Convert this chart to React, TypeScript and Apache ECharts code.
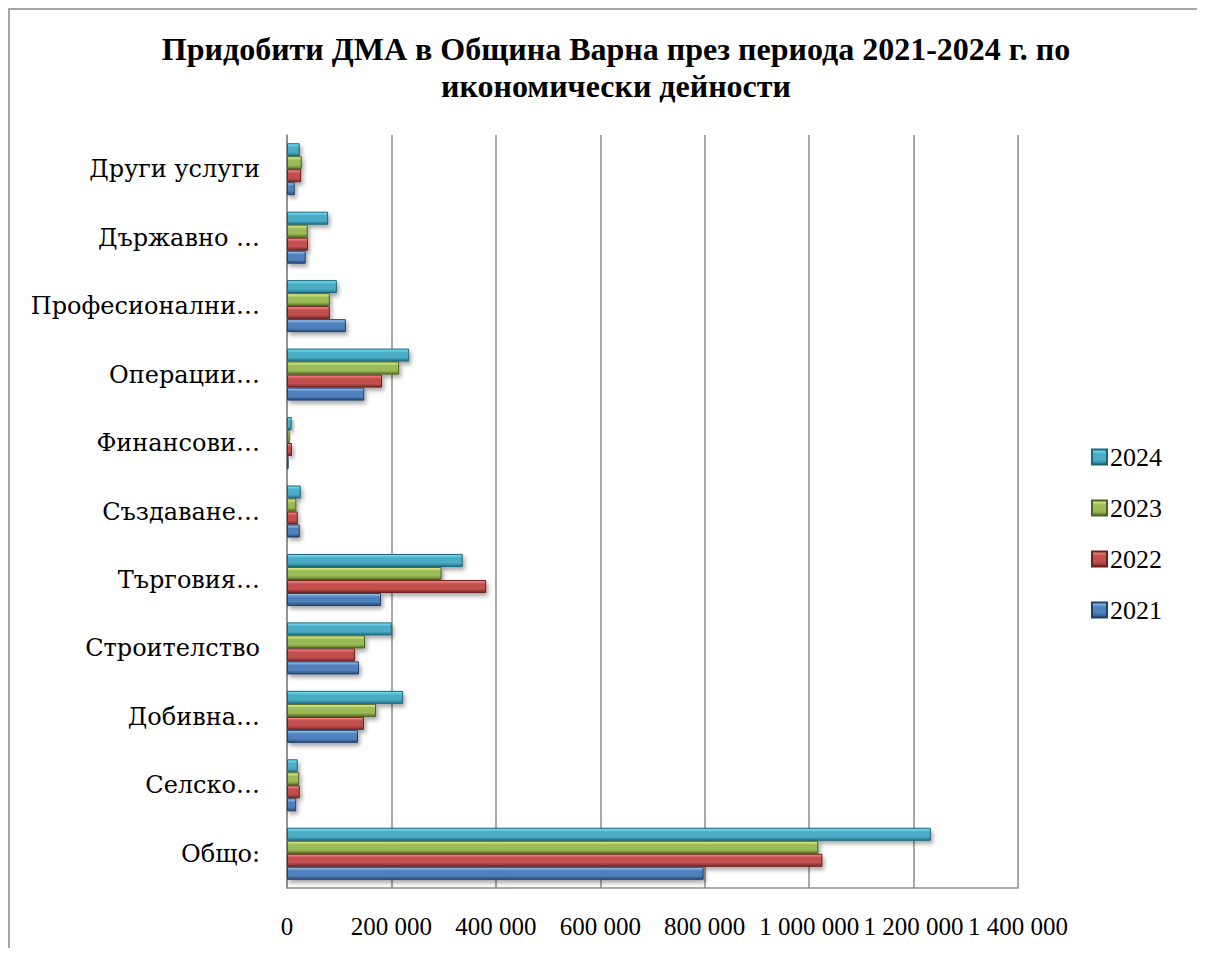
import React, { useEffect, useRef } from "react";
import * as echarts from "echarts";

const categories = [
  "Общо:",
  "Селско…",
  "Добивна…",
  "Строителство",
  "Търговия…",
  "Създаване…",
  "Финансови…",
  "Операции…",
  "Професионални…",
  "Държавно …",
  "Други услуги",
];
const v2021 = [798000, 17600, 135900, 137800, 180100, 24400, 3200, 148000, 112800, 35900, 14700];
const v2022 = [1025400, 24400, 147400, 130100, 381400, 20500, 9600, 182000, 82000, 40400, 27000];
const v2023 = [1017600, 23400, 170500, 149400, 296000, 17900, 5100, 214700, 82000, 39700, 28200];
const v2024 = [1233000, 20500, 222400, 200600, 336500, 26300, 9000, 234000, 95500, 78800, 24400];
// top-to-bottom inside each group
const years = ["2024", "2023", "2022", "2021"];
const seriesValues = [v2024, v2023, v2022, v2021];
const legendOrder = ["2024", "2023", "2022", "2021"];

const palettes = [
  { light: "#7ae6fb", mid: "#4bacc6", dark: "#23788f", border: "#1d6578" },
  { light: "#eaf790", mid: "#9bbb59", dark: "#5c7a28", border: "#4a6420" },
  { light: "#ff8f8b", mid: "#c0504d", dark: "#7c2b29", border: "#6a2220" },
  { light: "#a2cdf9", mid: "#4f81bd", dark: "#2a4d7c", border: "#22406a" },
];

const fmt = (v: number) => String(v).replace(/\B(?=(\d{3})+(?!\d))/g, " ");

export default function App() {
  const ref = useRef<HTMLDivElement>(null);
  useEffect(() => {
    if (!ref.current) return;
    const chart = echarts.init(ref.current, null, { renderer: "svg" });
    const series = years.map((y, i) => {
      const p = palettes[i];
      return {
        name: y,
        type: "bar",
        data: seriesValues[i],
        barGap: "0%",
        barCategoryGap: "24%",
        itemStyle: {
          color: new echarts.graphic.LinearGradient(0, 0, 0, 1, [
            { offset: 0, color: p.light },
            { offset: 0.3, color: p.mid },
            { offset: 0.7, color: p.mid },
            { offset: 1, color: p.dark },
          ]),
          borderColor: p.border,
          borderWidth: 1,
          shadowBlur: 4,
          shadowOffsetX: 2,
          shadowOffsetY: 3,
          shadowColor: "rgba(0,0,0,0.35)",
        },
      };
    });
    chart.setOption({
      animation: false,
      backgroundColor: "#ffffff",
      title: {
        text: "Придобити ДМА в Община Варна през периода 2021-2024 г. по\nикономически дейности",
        left: 603,
        top: 17,
        textAlign: "center",
        textStyle: {
          fontFamily: "Liberation Serif",
          fontWeight: "bold",
          fontSize: 32,
          lineHeight: 37,
          color: "#000000",
        },
      },
      legend: {
        data: legendOrder,
        orient: "vertical",
        left: 1078,
        top: 431,
        itemWidth: 15,
        itemHeight: 15,
        itemGap: 25,
        icon: "rect",
        textStyle: {
          fontFamily: "Liberation Serif",
          fontSize: 26,
          color: "#000000",
          padding: [0, 0, 0, -2],
        },
      },
      grid: {
        left: 279,
        top: 127,
        width: 731,
        height: 753,
        containLabel: false,
      },
      xAxis: {
        type: "value",
        min: 0,
        max: 1400000,
        interval: 200000,
        axisLine: { show: true, lineStyle: { color: "#8c8c8c", width: 1.5 } },
        axisTick: { show: false },
        splitLine: { show: true, lineStyle: { color: "#8c8c8c", width: 1.5 } },
        axisLabel: {
          formatter: (v: number) => fmt(v),
          fontFamily: "Liberation Serif",
          fontSize: 25,
          color: "#000000",
          margin: 26,
          hideOverlap: false,
        },
      },
      yAxis: {
        type: "category",
        data: categories,
        axisLine: { show: true, lineStyle: { color: "#8c8c8c", width: 1.5 } },
        axisTick: { show: false },
        splitLine: { show: false },
        axisLabel: {
          fontFamily: "DejaVu Serif",
          fontSize: 24,
          color: "#000000",
          margin: 27,
        },
      },
      graphic: [
        {
          type: "rect",
          shape: { x: 1, y: 1, width: 1400, height: 1400 },
          style: { fill: "none", stroke: "#8c8c8c", lineWidth: 1.5 },
          silent: true,
          z: -10,
        },
      ],
      series,
    });
    return () => chart.dispose();
  }, []);
  return <div ref={ref} style={{ width: 1197, height: 948, marginBottom: -8 }} />;
}
